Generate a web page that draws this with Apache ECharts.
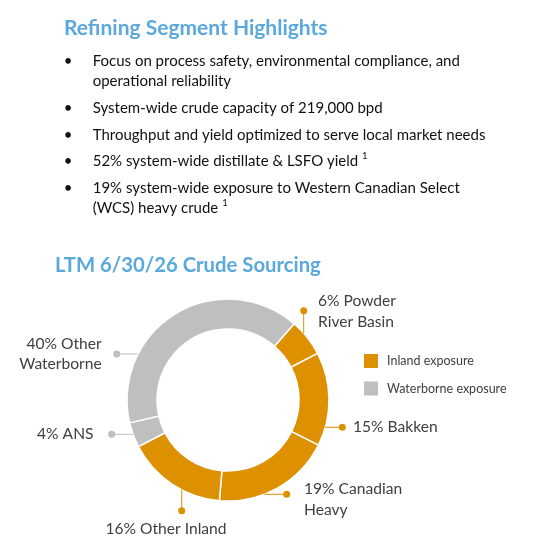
<!DOCTYPE html>
<html><head><meta charset="utf-8">
<script src="https://cdn.jsdelivr.net/npm/echarts@6/dist/echarts.min.js"></script>
<style>html,body{margin:0;padding:0;background:#fff}#c{width:538px;height:548px}</style>
</head><body><div id="c"></div>
<script>
// ---- data ----
const categories = ['Powder River Basin', 'Bakken', 'Canadian Heavy', 'Other Inland', 'ANS', 'Other Waterborne'];
const values = [6, 15, 19, 16, 4, 40];
const exposure = ['Inland', 'Inland', 'Inland', 'Inland', 'Waterborne', 'Waterborne'];
const labelNames = ['Powder\nRiver Basin', 'Bakken', 'Canadian\nHeavy', 'Other Inland', 'ANS', 'Other\nWaterborne'];
const legendNames = ['Inland exposure', 'Waterborne exposure'];
const headline = 'Refining Segment Highlights';
const chartTitle = 'LTM 6/30/26 Crude Sourcing';
const bullets = [
  'Focus on process safety, environmental compliance, and\noperational reliability',
  'System-wide crude capacity of 219,000 bpd',
  'Throughput and yield optimized to serve local market needs',
  '52% system-wide distillate & LSFO yield',
  '19% system-wide exposure to Western Canadian Select\n(WCS) heavy crude'
];
const bulletNotes = ['', '', '', '1', '1'];

// ---- styles / layout ----
const FONT = 'Lato';
const BLUE = '#5BA8DC';
const COLORS = { Inland: '#DD9000', Waterborne: '#BFBFBF' };
const TEXT = '#404040';
const CENTER = [228, 400];
const RADIUS = [71, 101];
const START = 49.1;
const bulletY = [61, 108, 135, 161.5, 188];
const LH = 20.5;
const textLayout = [
  { x: 318, y: 311.5, align: 'left' },
  { x: 353, y: 427.3, align: 'left' },
  { x: 304, y: 499.5, align: 'left' },
  { x: 166, y: 529, align: 'center' },
  { x: 93.5, y: 434.3, align: 'right' },
  { x: 101.7, y: 354, align: 'right' }
];
const dotLayout = [
  { x: 303.7, y: 310.7, sx: 303.7, sy: 333.5 },
  { x: 342.3, y: 427.3, sx: 325, sy: 427.3 },
  { x: 286.7, y: 494.3, sx: 264.2, sy: 494.3 },
  { x: 181.7, y: 510.7, sx: 181.7, sy: 489.8 },
  { x: 111.7, y: 434.3, sx: 133, sy: 434.3 },
  { x: 116.7, y: 354, sx: 138.1, sy: 354 }
];

const chart = echarts.init(document.getElementById('c'), null, { renderer: 'canvas' });

const graphics = [
  { type: 'text', left: 64, top: 18, style: { text: headline, fill: BLUE, font: 'bold 21px ' + FONT } },
  { type: 'text', left: 55, top: 255.5, style: { text: chartTitle, fill: BLUE, font: 'bold 20.3px ' + FONT } }
];
bullets.forEach((b, i) => {
  graphics.push({ type: 'text', x: 68, y: bulletY[i], style: { text: '•', fill: '#111', font: '15px ' + FONT, align: 'center', verticalAlign: 'middle' } });
  const note = bulletNotes[i] ? ' {sup|' + bulletNotes[i] + '}' : '';
  graphics.push({
    type: 'text', x: 92.7, y: bulletY[i] - LH / 2,
    style: {
      text: b + note, fill: '#111', fontFamily: FONT, fontSize: 15, lineHeight: LH,
      verticalAlign: 'top',
      rich: { sup: { fontSize: 9.5, fontFamily: FONT, fill: '#111', verticalAlign: 'top', lineHeight: 14 } }
    }
  });
});

const option = {
  animation: false,
  graphic: graphics,
  legend: {
    data: legendNames, orient: 'vertical', left: 364, top: 354, padding: 0,
    itemWidth: 14, itemHeight: 14, itemGap: 13.5, icon: 'rect', selectedMode: false,
    textStyle: { fontFamily: FONT, fontSize: 12.5, color: TEXT, padding: [0, 0, 0, 4] }
  },
  series: [
    {
      type: 'pie', name: 'ring', center: CENTER, radius: RADIUS, startAngle: START, clockwise: true,
      silent: true, avoidLabelOverlap: false,
      itemStyle: { borderColor: '#fff', borderWidth: 1.5 },
      data: categories.map((n, i) => ({ name: n, value: values[i], itemStyle: { color: COLORS[exposure[i]] } })),
      label: {
        show: true, formatter: p => values[p.dataIndex] + '% ' + labelNames[p.dataIndex],
        color: TEXT, fontFamily: FONT, fontSize: 15.6, lineHeight: LH
      },
      labelLine: { show: false },
      labelLayout: p => { const L = textLayout[p.dataIndex]; return { x: L.x, y: L.y, align: L.align, verticalAlign: 'middle' }; }
    },
    {
      type: 'pie', name: 'leaders', center: CENTER, radius: RADIUS, startAngle: START, clockwise: true,
      silent: true, avoidLabelOverlap: false, z: 3,
      data: categories.map((n, i) => {
        const col = COLORS[exposure[i]];
        return {
          name: n, value: values[i], itemStyle: { color: 'rgba(0,0,0,0)', borderWidth: 0 },
          label: { show: true, formatter: '{d|}', rich: { d: { width: 7, height: 7, borderRadius: 3.5, backgroundColor: col } } },
          labelLine: { show: true, lineStyle: { color: col, width: 1 } }
        };
      }),
      labelLine: { show: true, length: 10, length2: 10 },
      labelLayout: p => {
        const d = dotLayout[p.dataIndex];
        return { x: d.x, y: d.y, align: 'center', verticalAlign: 'middle', labelLinePoints: [[d.sx, d.sy], [d.x, d.y], [d.x, d.y]] };
      }
    },
    {
      type: 'pie', name: 'legendItems', center: CENTER, radius: [0, 0], silent: true, stillShowZeroSum: false,
      label: { show: false }, labelLine: { show: false },
      data: legendNames.map((n, i) => ({ name: n, value: 0, itemStyle: { color: COLORS[['Inland', 'Waterborne'][i]] } }))
    }
  ]
};
chart.setOption(option);
</script>
</body></html>
